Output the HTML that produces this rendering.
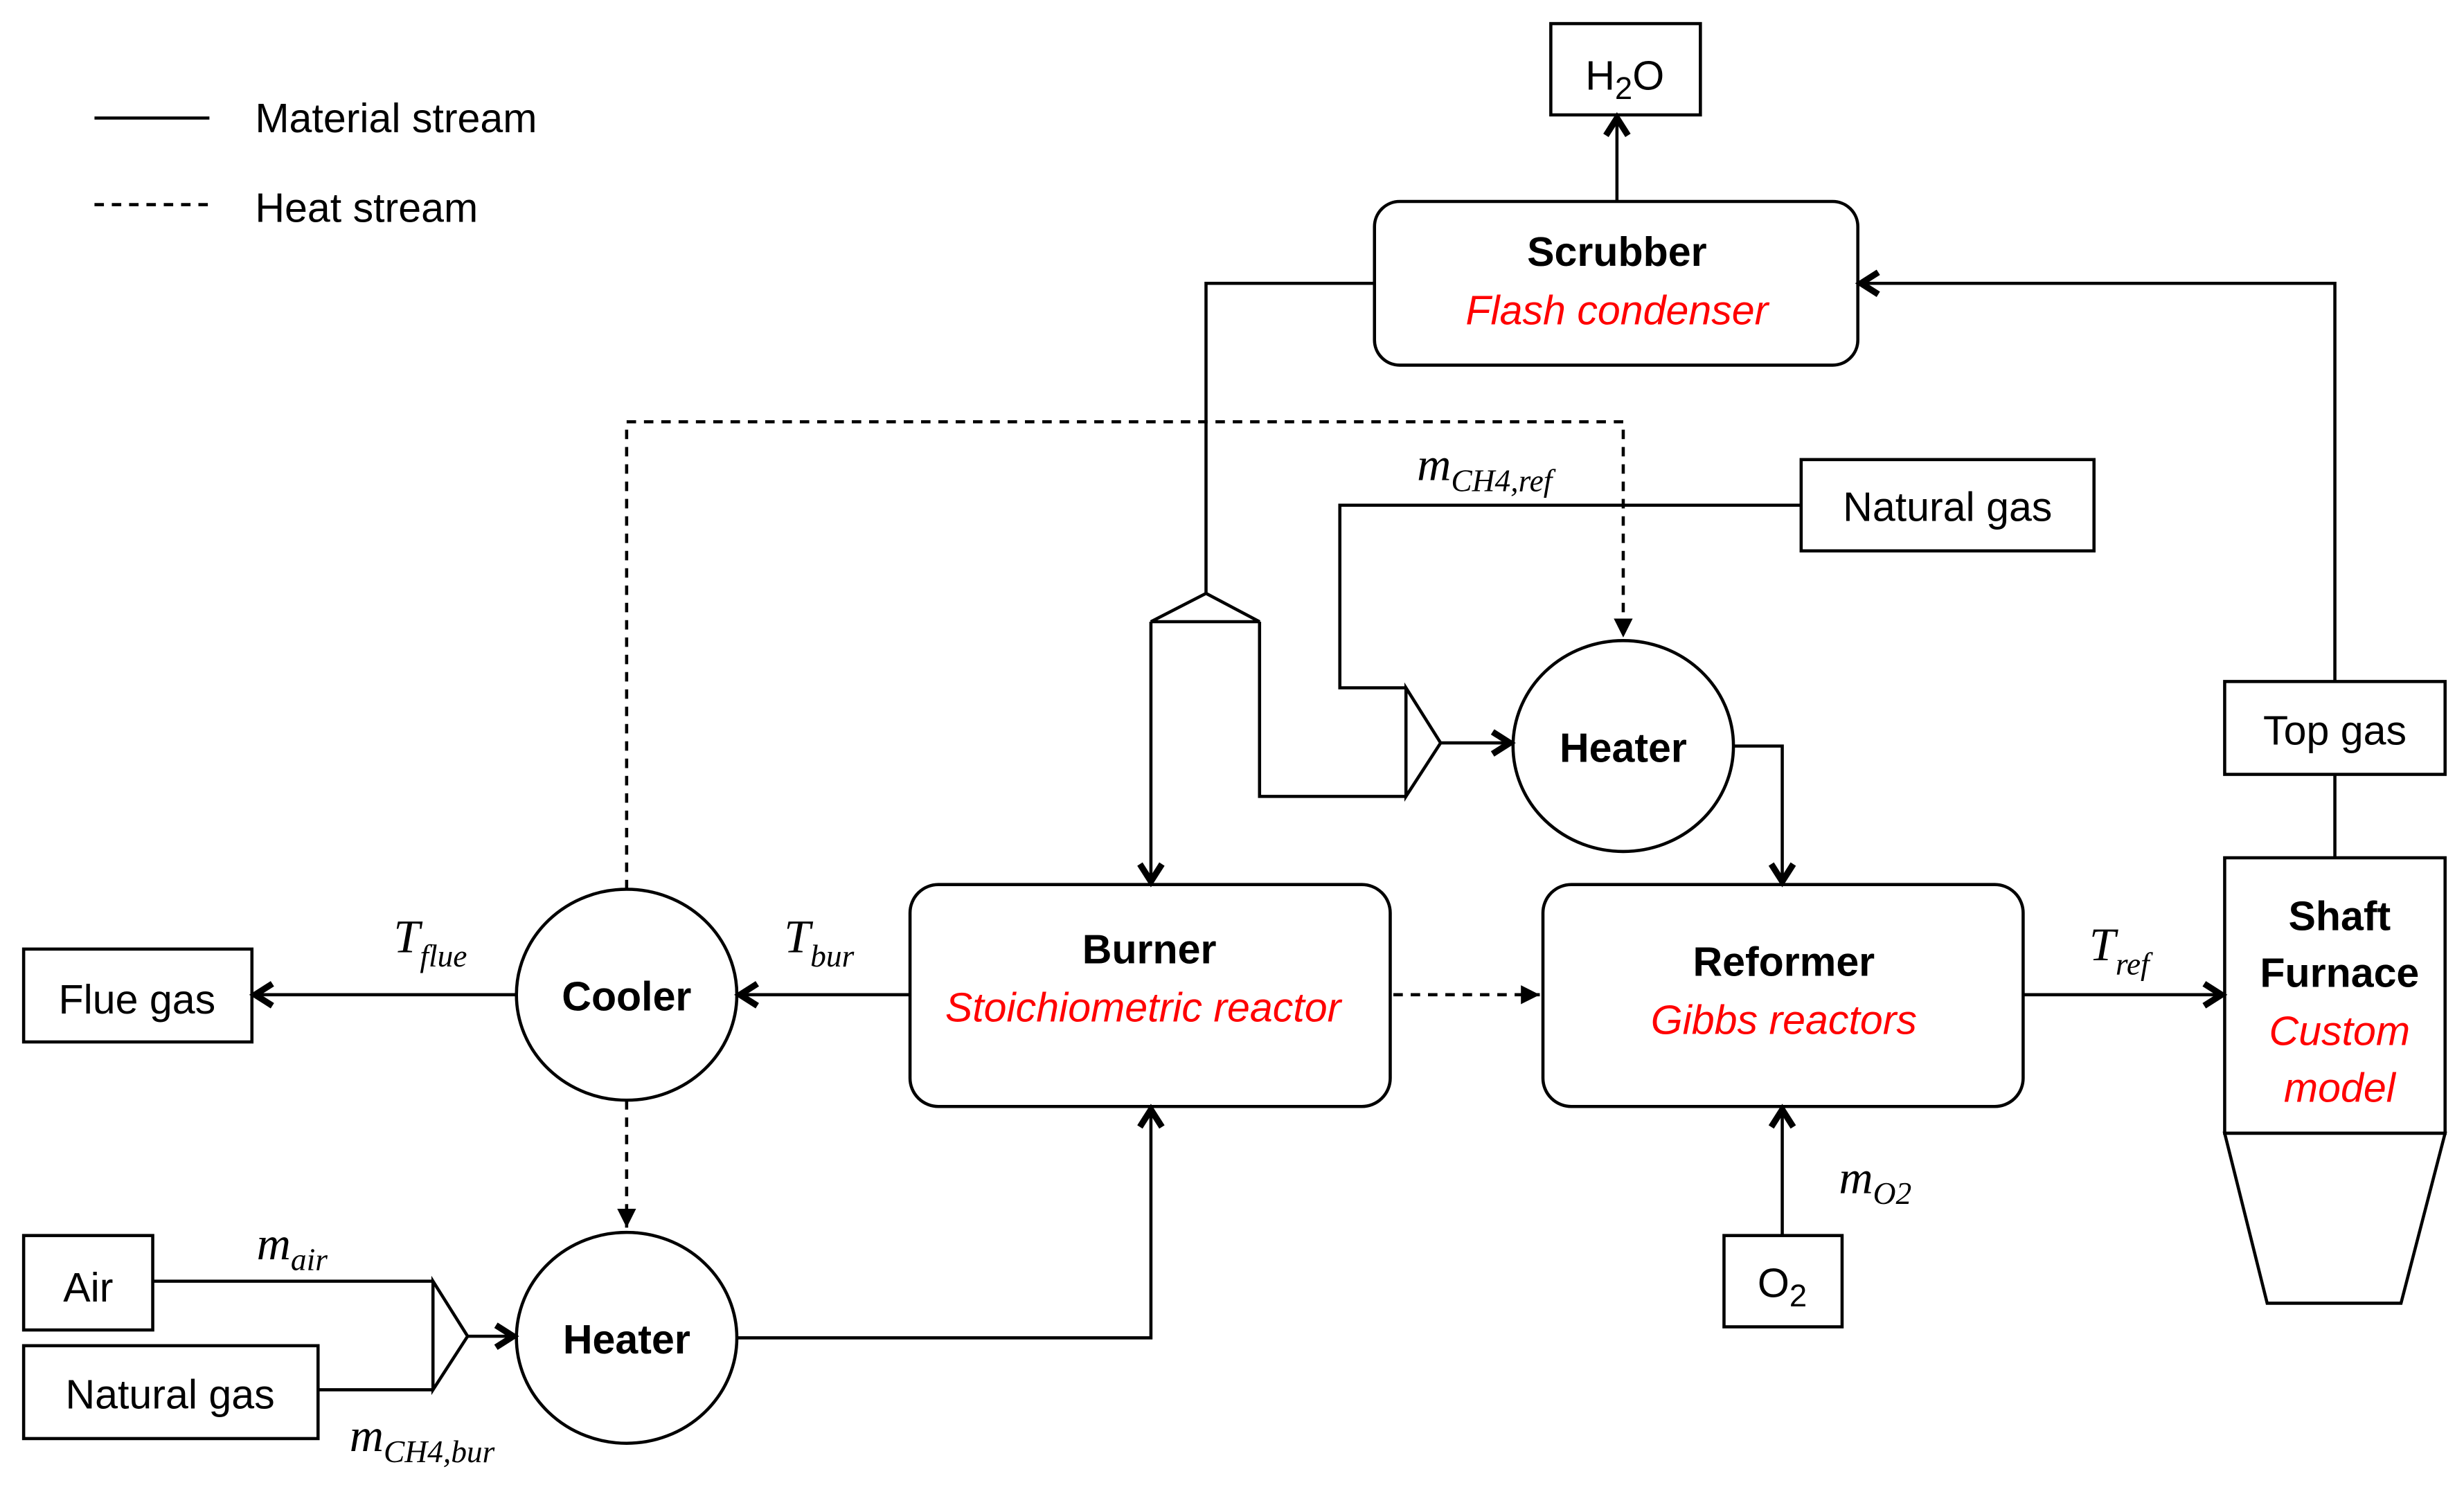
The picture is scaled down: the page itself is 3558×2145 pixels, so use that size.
<!DOCTYPE html>
<html><head><meta charset="utf-8"><style>
html,body{margin:0;padding:0;background:#fff;}
svg{display:block;}
text{font-family:"Liberation Sans",sans-serif;}
.t{font-size:26px;fill:#000;}
.b{font-size:26px;font-weight:bold;fill:#000;}
.r{font-size:26px;font-style:italic;fill:#f00;}
.m{font-family:"Liberation Serif",serif;font-style:italic;font-size:30px;fill:#000;}
.s{font-size:20px;}
</style></head><body>
<svg width="3558" height="2145" viewBox="0 0 1565 943.5" xmlns="http://www.w3.org/2000/svg">
<defs>
<marker id="a" markerWidth="18" markerHeight="18" refX="14" refY="9" orient="auto" markerUnits="userSpaceOnUse">
<polyline points="3,2 14,9 3,16" fill="none" stroke="#000" stroke-width="4"/>
</marker>
<marker id="d" markerWidth="14" markerHeight="14" refX="13" refY="7" orient="auto" markerUnits="userSpaceOnUse">
<polygon points="1,1 13,7 1,13" fill="#000"/>
</marker>
</defs>
<g stroke="#000" stroke-width="2" fill="none">
<line x1="60" y1="75" x2="133" y2="75"/>
<line x1="60" y1="130" x2="133" y2="130" stroke-dasharray="6,5"/>
<rect x="985" y="15" width="95" height="58"/>
<rect x="873" y="128" width="307" height="104" rx="16"/>
<rect x="1144" y="292" width="186" height="58"/>
<rect x="578" y="562" width="305" height="141" rx="18"/>
<rect x="980" y="562" width="305" height="141" rx="18"/>
<rect x="15" y="603" width="145" height="59"/>
<rect x="15" y="785" width="82" height="60"/>
<rect x="15" y="855" width="187" height="59"/>
<rect x="1095" y="785" width="75" height="58"/>
<rect x="1413" y="433" width="140" height="59"/>
<rect x="1413" y="545" width="140" height="175"/>
<polygon points="1413,720 1553,720 1525,828 1440,828"/>
<ellipse cx="1031" cy="474" rx="70" ry="67"/>
<ellipse cx="398" cy="632" rx="70" ry="67"/>
<ellipse cx="398" cy="850" rx="70" ry="67"/>
<polygon points="766,377 731,395 800,395"/>
<polygon points="893,437 915,472 893,506"/>
<polygon points="275,814 297,849 275,883"/>
<line x1="1027" y1="128" x2="1027" y2="75" marker-end="url(#a)"/>
<polyline points="873,180 766,180 766,377"/>
<line x1="731" y1="395" x2="731" y2="560" marker-end="url(#a)"/>
<polyline points="800,395 800,506 893,506"/>
<polyline points="1144,321 851,321 851,437 893,437"/>
<line x1="915" y1="472" x2="959" y2="472" marker-end="url(#a)"/>
<polyline points="1101,474 1132,474 1132,560" marker-end="url(#a)"/>
<line x1="578" y1="632" x2="470" y2="632" marker-end="url(#a)"/>
<line x1="328" y1="632" x2="162" y2="632" marker-end="url(#a)"/>
<polyline points="468,850 731,850 731,705" marker-end="url(#a)"/>
<polyline points="97,814 275,814"/>
<polyline points="202,883 275,883"/>
<line x1="297" y1="849" x2="326" y2="849" marker-end="url(#a)"/>
<line x1="1132" y1="785" x2="1132" y2="705" marker-end="url(#a)"/>
<line x1="1285" y1="632" x2="1411" y2="632" marker-end="url(#a)"/>
<line x1="1483" y1="492" x2="1483" y2="545"/>
<polyline points="1483,433 1483,180 1182,180" marker-end="url(#a)"/>
<g stroke-dasharray="6,5">
<polyline points="398,565 398,268 1031,268 1031,405" marker-end="url(#d)"/>
<line x1="398" y1="699" x2="398" y2="780" marker-end="url(#d)"/>
<line x1="885" y1="632" x2="978" y2="632" marker-end="url(#d)"/>
</g>
</g>
<text class="t" x="162" y="84">Material stream</text>
<text class="t" x="162" y="141">Heat stream</text>
<text class="t" x="1032" y="57" text-anchor="middle">H<tspan class="s" dy="6">2</tspan><tspan dy="-6">O</tspan></text>
<text class="b" x="1027" y="169" text-anchor="middle">Scrubber</text>
<text class="r" x="1027" y="206" text-anchor="middle">Flash condenser</text>
<text class="t" x="1237" y="331" text-anchor="middle">Natural gas</text>
<text class="b" x="1031" y="484" text-anchor="middle">Heater</text>
<text class="b" x="730" y="612" text-anchor="middle">Burner</text>
<text class="r" x="726" y="649" text-anchor="middle">Stoichiometric reactor</text>
<text class="b" x="1133" y="620" text-anchor="middle">Reformer</text>
<text class="r" x="1133" y="657" text-anchor="middle">Gibbs reactors</text>
<text class="b" x="398" y="642" text-anchor="middle">Cooler</text>
<text class="b" x="398" y="860" text-anchor="middle">Heater</text>
<text class="t" x="87" y="644" text-anchor="middle">Flue gas</text>
<text class="t" x="56" y="827" text-anchor="middle">Air</text>
<text class="t" x="108" y="895" text-anchor="middle">Natural gas</text>
<text class="t" x="1132" y="824" text-anchor="middle">O<tspan class="s" dy="6">2</tspan></text>
<text class="t" x="1483" y="473" text-anchor="middle">Top gas</text>
<text class="b" x="1486" y="591" text-anchor="middle">Shaft</text>
<text class="b" x="1486" y="627" text-anchor="middle">Furnace</text>
<text class="r" x="1486" y="664" text-anchor="middle">Custom</text>
<text class="r" x="1486" y="700" text-anchor="middle">model</text>
<text class="m" x="900" y="305">m<tspan class="s" dy="7">CH4,ref</tspan></text>
<text class="m" x="250" y="605">T<tspan class="s" dy="9">flue</tspan></text>
<text class="m" x="498" y="605">T<tspan class="s" dy="9">bur</tspan></text>
<text class="m" x="1327" y="610">T<tspan class="s" dy="9">ref</tspan></text>
<text class="m" x="163" y="800">m<tspan class="s" dy="7">air</tspan></text>
<text class="m" x="222" y="922">m<tspan class="s" dy="7">CH4,bur</tspan></text>
<text class="m" x="1168" y="758">m<tspan class="s" dy="7">O2</tspan></text>
</svg>
</body></html>
